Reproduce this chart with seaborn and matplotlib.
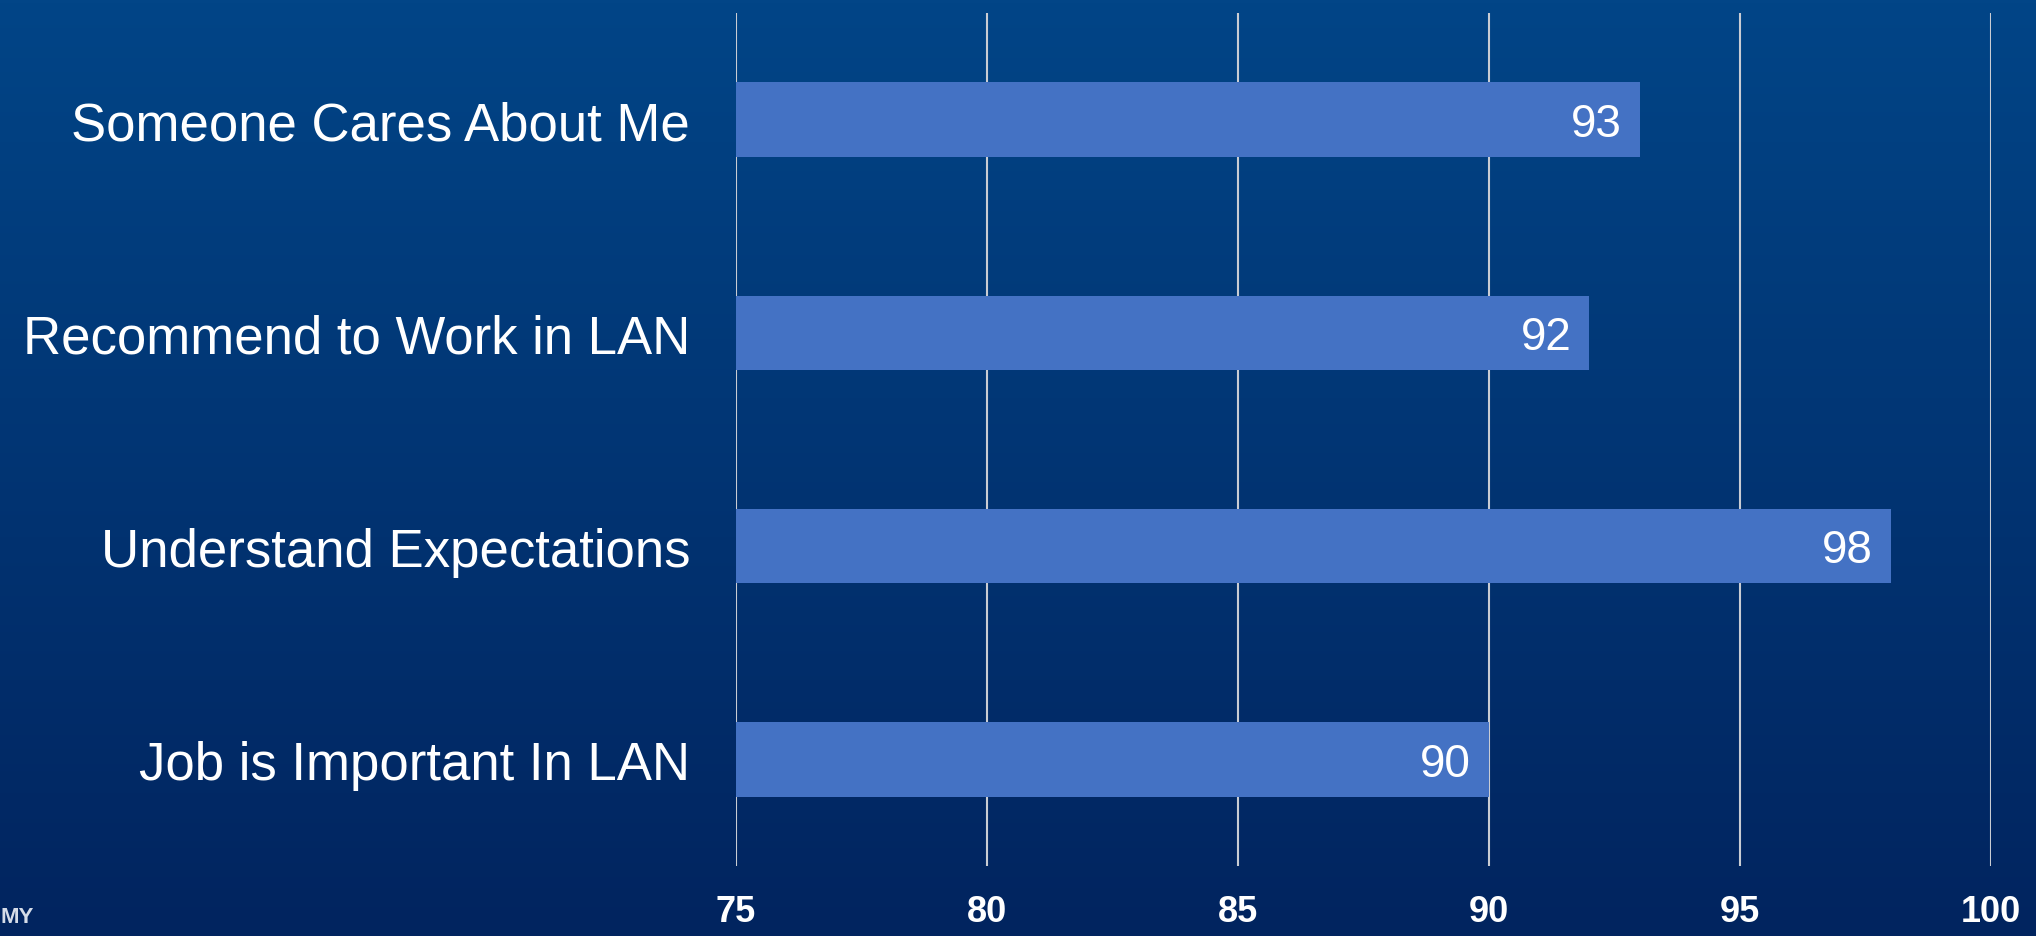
import numpy as np
import pandas as pd
import seaborn as sns
import matplotlib.pyplot as plt
from matplotlib.colors import LinearSegmentedColormap

# dados do grafico
categorias = ['Someone Cares About Me', 'Recommend to Work in LAN',
              'Understand Expectations', 'Job is Important In LAN']
valores = [93, 92, 98, 90]
ticks_x = [75, 80, 85, 90, 95, 100]

dados = pd.DataFrame({'categoria': categorias, 'valor': valores})

sns.set_style('white')
plt.rcParams['font.family'] = ['Liberation Sans', 'DejaVu Sans']

fig = plt.figure(figsize=(20.36, 9.37), dpi=100)

# fundo em degrade azul
fundo = fig.add_axes([0, 0, 1, 1], zorder=0)
cmap = LinearSegmentedColormap.from_list('fundo', ['#024587', '#01245F'])
fundo.imshow(np.linspace(0, 1, 256).reshape(-1, 1), aspect='auto', cmap=cmap,
             extent=[0, 1, 0, 1])
fundo.axis('off')

ax = fig.add_axes([0.3615, 0.0747, 0.6164, 0.9103], zorder=1)
ax.patch.set_alpha(0)

sns.barplot(data=dados, x='valor', y='categoria', orient='h', color='#4472C4',
            saturation=1, width=0.35, linewidth=0, ax=ax, zorder=3)

ax.set_xlim(75, 100)
ax.set_ylim(3.5, -0.5)
ax.set_xticks(ticks_x)
ax.grid(axis='x', color='#C9CCD3', linewidth=1.5, zorder=1)
ax.grid(axis='y', visible=False)
ax.set_axisbelow(True)
for s in ax.spines.values():
    s.set_visible(False)

ax.set_xlabel('')
ax.set_ylabel('')
ax.tick_params(axis='x', length=0, pad=20, labelsize=26, labelcolor='white')
ax.tick_params(axis='y', length=0, pad=33, labelsize=38, labelcolor='white')
for lbl in ax.get_xticklabels():
    lbl.set_fontweight('bold')

# rotulos dentro das barras
for i, v in enumerate(valores):
    ax.annotate(str(v), xy=(v, i), xytext=(-13, -3), textcoords='offset points',
                ha='right', va='center', color='white', fontsize=33, zorder=4)

fig.text(0.0, 0.01, 'MY', color='#D5DCE8', fontsize=16, fontweight='bold',
         ha='left', va='bottom')

fig.savefig('out.png', dpi=100)
